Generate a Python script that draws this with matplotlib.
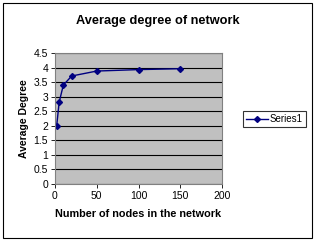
import matplotlib
matplotlib.use('Agg')
import matplotlib.pyplot as plt
from matplotlib.patches import Rectangle

# 数据
nodes = [2, 5, 10, 20, 50, 100, 150]
avg_degree = [2.0, 2.81, 3.40, 3.71, 3.88, 3.93, 3.96]
x_ticks = [0, 50, 100, 150, 200]
y_ticks = [0, 0.5, 1, 1.5, 2, 2.5, 3, 3.5, 4, 4.5]

plt.rcParams['font.family'] = ['Liberation Sans', 'DejaVu Sans']

W, H = 328, 246
fig = plt.figure(figsize=(W / 100, H / 100), dpi=100)
fig.patch.set_facecolor('white')

# 外框
fig.add_artist(Rectangle((3 / W, 1 - 238 / H), (312 - 3) / W, (238 - 3) / H,
                         transform=fig.transFigure, fill=False, edgecolor='black', linewidth=0.8))

ax = fig.add_axes([55 / W, 1 - 184 / H, (222 - 55) / W, (184 - 53) / H])
ax.set_facecolor('#C0C0C0')
ax.plot(nodes, avg_degree, color='#000080', marker='D', markersize=3, linewidth=1, label='Series1')

ax.set_xlim(0, 200)
ax.set_ylim(0, 4.5)
ax.set_xticks(x_ticks)
ax.set_yticks(y_ticks)
ax.set_yticklabels([f'{v:g}' for v in y_ticks])
ax.yaxis.grid(True, color='black', linewidth=0.8)
ax.set_axisbelow(True)
ax.tick_params(labelsize=7.5, length=3, width=0.6, pad=2)
for side in ['top', 'right', 'left', 'bottom']:
    ax.spines[side].set_color('#808080')
    ax.spines[side].set_linewidth(0.8)

ax.set_xlabel('Number of nodes in the network', fontsize=7.8, fontweight='bold', labelpad=6)
ax.set_ylabel('Average Degree', fontsize=7.5, fontweight='bold', labelpad=3)
fig.text(158 / W, 1 - 21 / H, 'Average degree of network', ha='center', va='center',
         fontsize=9.2, fontweight='bold')

leg = fig.legend(loc='center', bbox_to_anchor=(274.5 / W, 1 - 119 / H), fontsize=7,
                 frameon=True, fancybox=False, edgecolor='black', handlelength=2.2,
                 borderpad=0.3, handletextpad=0.2, borderaxespad=0)
leg.get_frame().set_linewidth(0.8)

fig.savefig('out.png', dpi=100)
